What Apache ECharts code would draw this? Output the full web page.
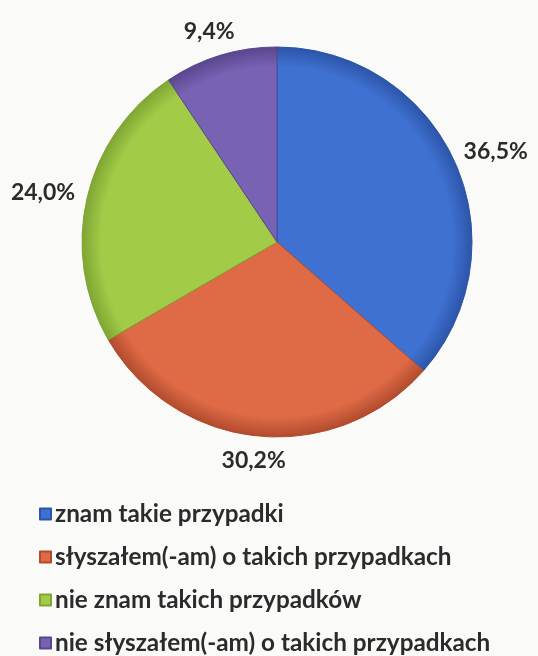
<!DOCTYPE html>
<html>
<head>
<meta charset="utf-8">
<script src="https://cdn.jsdelivr.net/npm/echarts@6/dist/echarts.min.js"></script>
<style>
  html, body { margin: 0; padding: 0; background: #fafaf8; }
  #main { width: 538px; height: 656px; }
</style>
</head>
<body>
<div id="main"></div>
<script>
// dane z wykresu
var categories = [
  'znam takie przypadki',
  'słyszałem(-am) o takich przypadkach',
  'nie znam takich przypadków',
  'nie słyszałem(-am) o takich przypadkach'
]
var shares = [36.5, 30.2, 24.0, 9.4]

// kolory wycinków: [środek, krawędź]
var colors = [
  ['#3f71d2', '#2c55a8'],
  ['#de6a46', '#b14b2d'],
  ['#a2cc48', '#7fa533'],
  ['#7862b3', '#5a468e']
]

var CX = 277
var CY = 242
var R = 195

var chart = echarts.init(document.getElementById('main'))

function fill(c) {
  // delikatny efekt wypukłości jak w Excelu
  return new echarts.graphic.RadialGradient(CX, CY, R, [
    { offset: 0, color: c[0] },
    { offset: 0.9, color: c[0] },
    { offset: 1, color: c[1] }
  ], true)
}

var option = {
  backgroundColor: '#fafaf8',
  legend: {
    orient: 'vertical',
    left: 34,
    top: 497,
    height: 160,
    icon: 'rect',
    itemWidth: 11,
    itemHeight: 11,
    itemGap: 19,
    selectedMode: false,
    textStyle: {
      fontFamily: 'Lato',
      fontSize: 24.3,
      fontWeight: 'bold',
      lineHeight: 24,
      color: '#2b2b2b',
      padding: [0, 0, 0, -1]
    },
    data: categories.map(function (name, i) {
      return { name: name, itemStyle: { color: colors[i][0] } }
    })
  },
  series: [
    {
      type: 'pie',
      center: [CX, CY],
      radius: R,
      startAngle: 90,
      clockwise: true,
      animation: false,
      label: {
        show: true,
        position: 'outside',
        fontFamily: 'Lato',
        fontSize: 23,
        fontWeight: 'bold',
        color: '#2b2b2b',
        formatter: function (p) {
          return p.value.toFixed(1).replace('.', ',') + '%'
        }
      },
      labelLine: {
        show: true,
        length: 4,
        length2: 0,
        lineStyle: { opacity: 0 }
      },
      // etykieta na przedłużeniu promienia, jak "koniec zewnętrzny" w Excelu
      labelLayout: function (p) {
        var pt = p.labelLinePoints[0]
        var dx = pt[0] - CX
        var dy = pt[1] - CY
        var len = Math.sqrt(dx * dx + dy * dy)
        dx /= len
        dy /= len
        var gap = 13
        var w = p.labelRect.width
        var h = p.labelRect.height
        return {
          x: CX + dx * (R + gap) + dx * w / 2,
          y: CY + dy * (R + gap) + dy * h / 2,
          align: 'center',
          verticalAlign: 'middle'
        }
      },
      emphasis: { disabled: true },
      data: categories.map(function (name, i) {
        return {
          name: name,
          value: shares[i],
          itemStyle: {
            color: fill(colors[i]),
            borderColor: colors[i][1],
            borderWidth: 1
          }
        }
      })
    }
  ]
}

chart.setOption(option)
</script>
</body>
</html>
